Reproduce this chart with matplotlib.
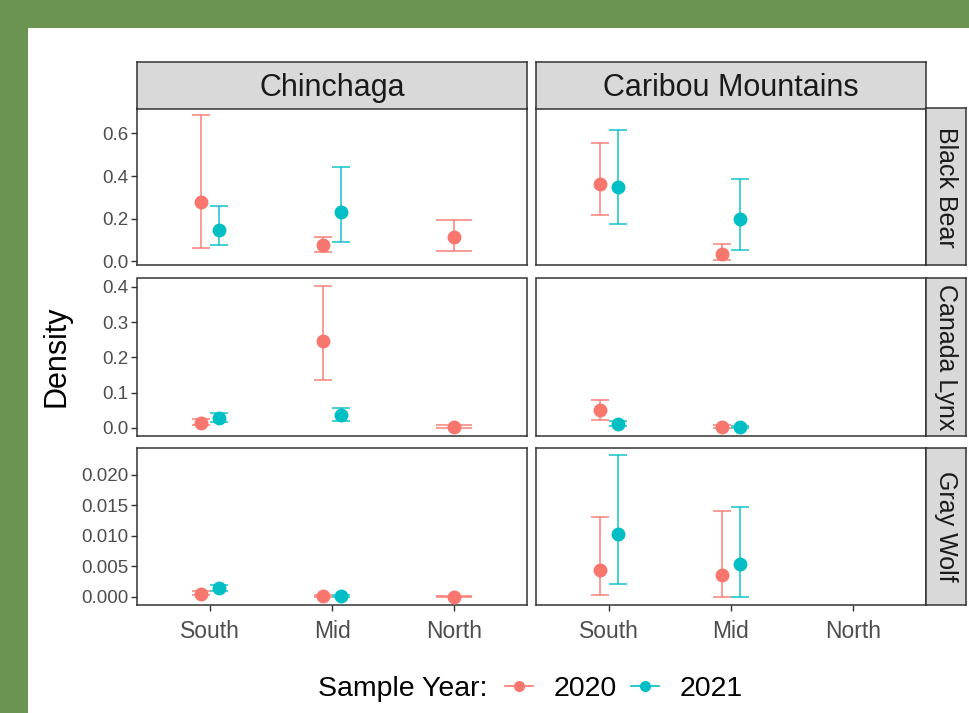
import numpy as np
import matplotlib.pyplot as plt
from matplotlib.patches import Rectangle
from matplotlib.lines import Line2D

plt.rcParams['font.family'] = ['Liberation Sans', 'DejaVu Sans']

regions = ['Chinchaga', 'Caribou Mountains']
species = ['Black Bear', 'Canada Lynx', 'Gray Wolf']
zones = ['South', 'Mid', 'North']
years = ['2020', '2021']
year_colors = {'2020': '#F8766D', '2021': '#00BFC4'}
nan = np.nan

# density estimates with lower / upper limits, per zone (South, Mid, North)
bear_est = {('Chinchaga', '2020'): [0.277, 0.077, 0.114],
            ('Chinchaga', '2021'): [0.146, 0.231, nan],
            ('Caribou Mountains', '2020'): [0.365, 0.035, nan],
            ('Caribou Mountains', '2021'): [0.351, 0.199, nan]}
bear_lo = {('Chinchaga', '2020'): [0.063, 0.044, 0.048],
           ('Chinchaga', '2021'): [0.077, 0.091, nan],
           ('Caribou Mountains', '2020'): [0.216, 0.005, nan],
           ('Caribou Mountains', '2021'): [0.174, 0.055, nan]}
bear_hi = {('Chinchaga', '2020'): [0.685, 0.114, 0.194],
           ('Chinchaga', '2021'): [0.258, 0.443, nan],
           ('Caribou Mountains', '2020'): [0.556, 0.083, nan],
           ('Caribou Mountains', '2021'): [0.618, 0.387, nan]}

lynx_est = {('Chinchaga', '2020'): [0.015, 0.246, 0.003],
            ('Chinchaga', '2021'): [0.028, 0.037, nan],
            ('Caribou Mountains', '2020'): [0.051, 0.004, nan],
            ('Caribou Mountains', '2021'): [0.011, 0.004, nan]}
lynx_lo = {('Chinchaga', '2020'): [0.008, 0.136, 0.0],
           ('Chinchaga', '2021'): [0.017, 0.020, nan],
           ('Caribou Mountains', '2020'): [0.023, 0.0, nan],
           ('Caribou Mountains', '2021'): [0.005, 0.001, nan]}
lynx_hi = {('Chinchaga', '2020'): [0.025, 0.402, 0.008],
           ('Chinchaga', '2021'): [0.042, 0.057, nan],
           ('Caribou Mountains', '2020'): [0.079, 0.008, nan],
           ('Caribou Mountains', '2021'): [0.021, 0.007, nan]}

wolf_est = {('Chinchaga', '2020'): [0.0005, 0.00005, 0.00002],
            ('Chinchaga', '2021'): [0.0014, 0.0001, nan],
            ('Caribou Mountains', '2020'): [0.0044, 0.0036, nan],
            ('Caribou Mountains', '2021'): [0.0102, 0.0054, nan]}
wolf_lo = {('Chinchaga', '2020'): [0.0002, 0.0, 0.0],
           ('Chinchaga', '2021'): [0.0010, 0.0, nan],
           ('Caribou Mountains', '2020'): [0.0002, 0.0, nan],
           ('Caribou Mountains', '2021'): [0.0021, 0.0, nan]}
wolf_hi = {('Chinchaga', '2020'): [0.0009, 0.0002, 0.0001],
           ('Chinchaga', '2021'): [0.0019, 0.0003, nan],
           ('Caribou Mountains', '2020'): [0.0130, 0.0140, nan],
           ('Caribou Mountains', '2021'): [0.0233, 0.0147, nan]}

tables = {'Black Bear': (bear_est, bear_lo, bear_hi),
          'Canada Lynx': (lynx_est, lynx_lo, lynx_hi),
          'Gray Wolf': (wolf_est, wolf_lo, wolf_hi)}

yticks = {'Black Bear': [0.0, 0.2, 0.4, 0.6],
          'Canada Lynx': [0.0, 0.1, 0.2, 0.3, 0.4],
          'Gray Wolf': [0.0, 0.005, 0.010, 0.015, 0.020]}
yfmt = {'Black Bear': '{:.1f}', 'Canada Lynx': '{:.1f}', 'Gray Wolf': '{:.3f}'}
ylims = {'Black Bear': (-0.019, 0.717),
         'Canada Lynx': (-0.0227, 0.4235),
         'Gray Wolf': (-0.00128, 0.02446)}

W, H = 969, 713
fig = plt.figure(figsize=(W / 100, H / 100), dpi=100, facecolor='#6b9351')
fig.patches.append(Rectangle((28 / W, 0), 1 - 28 / W, 1 - 28 / H,
                             transform=fig.transFigure, facecolor='white',
                             edgecolor='none', zorder=-10))


def box(x0, y0, x1, y1):
    return [x0 / W, 1 - y1 / H, (x1 - x0) / W, (y1 - y0) / H]


col_x = [(137, 527), (536, 926)]
row_y = [(108.5, 265.5), (278.5, 436), (447.5, 604.5)]
edge = '#333333'
dodge = 0.075

for r, sp in enumerate(species):
    est, lo, hi = tables[sp]
    for c, reg in enumerate(regions):
        ax = fig.add_axes(box(col_x[c][0], row_y[r][0], col_x[c][1], row_y[r][1]))
        for s in ax.spines.values():
            s.set_color(edge)
            s.set_linewidth(1.1)
        for zi in range(len(zones)):
            present = [y for y in years if not np.isnan(est[(reg, y)][zi])]
            n = len(present)
            for k, y in enumerate(present):
                off = 0 if n == 1 else (-dodge if k == 0 else dodge)
                half = 0.15 if n == 1 else 0.075
                x = zi + 1 + off
                col = year_colors[y]
                l, h = lo[(reg, y)][zi], hi[(reg, y)][zi]
                ax.vlines(x, l, h, color=col, lw=1.2, alpha=0.85, zorder=2)
                ax.hlines([l, h], x - half, x + half, color=col, lw=1.2,
                          alpha=0.85, zorder=2)
                ax.plot(x, est[(reg, y)][zi], 'o', color=col, ms=10,
                        mec='none', zorder=3)
        ax.set_xlim(0.4, 3.6)
        ax.set_ylim(*ylims[sp])
        ax.tick_params(colors=edge, length=4, width=1.0)
        ax.set_yticks(yticks[sp])
        if c == 0:
            ax.set_yticklabels([yfmt[sp].format(v) for v in yticks[sp]],
                               fontsize=13.5, color='#4D4D4D')
            ax.tick_params(axis='y', pad=2)
        else:
            ax.tick_params(axis='y', left=False, labelleft=False)
        ax.set_xticks(range(1, len(zones) + 1))
        if r == len(species) - 1:
            ax.set_xticklabels(zones, fontsize=16.5, color='#4D4D4D')
            ax.tick_params(axis='x', pad=7)
        else:
            ax.tick_params(axis='x', bottom=False, labelbottom=False)

# top strips
for c, reg in enumerate(regions):
    sax = fig.add_axes(box(col_x[c][0], 62, col_x[c][1], 108.5))
    sax.set_facecolor('#D9D9D9')
    sax.set_xticks([])
    sax.set_yticks([])
    for s in sax.spines.values():
        s.set_color(edge)
        s.set_linewidth(1.1)
    sax.text(0.5, 0.44, reg, ha='center', va='center', fontsize=22,
             color='#1A1A1A', transform=sax.transAxes)

# right strips
for r, sp in enumerate(species):
    sax = fig.add_axes(box(926, row_y[r][0], 966, row_y[r][1]))
    sax.set_facecolor('#D9D9D9')
    sax.set_xticks([])
    sax.set_yticks([])
    for s in sax.spines.values():
        s.set_color(edge)
        s.set_linewidth(1.1)
    sax.text(0.5, 0.5, sp, ha='center', va='center', fontsize=18,
             rotation=-90, color='#1A1A1A', transform=sax.transAxes)

fig.text(57 / W, 1 - 356 / H, 'Density', rotation=90, ha='center',
         va='center', fontsize=22, color='black')

# legend
fig.text(318 / W, 1 - 689 / H, 'Sample Year:', ha='left', va='center',
         fontsize=20.5, color='black')
handles = [Line2D([0], [0], color=year_colors[y], lw=1.2, marker='o', ms=8,
                  mec='none') for y in years]
fig.legend(handles, years, loc='center left', bbox_to_anchor=(505 / W, 1 - 689 / H),
           ncol=2, frameon=False, fontsize=20.5, handlelength=1.0,
           handletextpad=0.7, columnspacing=0.5, borderpad=0, borderaxespad=0)

fig.savefig('out.png', dpi=100, facecolor=fig.get_facecolor())
